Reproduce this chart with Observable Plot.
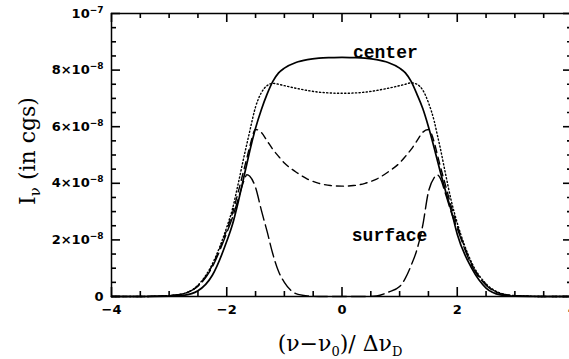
<!DOCTYPE html>
<html><head><meta charset="utf-8">
<script src="https://cdn.jsdelivr.net/npm/d3@7"></script>
<script src="https://cdn.jsdelivr.net/npm/@observablehq/plot@0.6"></script>
<style>body{margin:0;background:#fff} svg{display:block}</style>
</head><body><div id="chart"></div>
<script>
// frequency offset (in Doppler widths)
const xs = [-4, -3.5, -3, -2.75, -2.5, -2.25, -2, -1.9, -1.8, -1.7, -1.65, -1.6, -1.5, -1.4, -1.3, -1.2, -1.1, -1, -0.8, -0.6, -0.4, -0.2,
  0, 0.2, 0.4, 0.6, 0.8, 1, 1.1, 1.2, 1.3, 1.4, 1.5, 1.6, 1.65, 1.7, 1.8, 1.9, 2, 2.25, 2.5, 2.75, 3, 3.5, 4];
// intensities in units of 1e-8 cgs
const center = [0, 0, 0.01, 0.04, 0.2, 0.75, 1.95, 2.55, 3.35, 4.25, 4.7, 5.15, 5.95, 6.6, 7.15, 7.6, 7.9, 8.07, 8.27, 8.37, 8.42, 8.44,
  8.45, 8.44, 8.42, 8.37, 8.27, 8.07, 7.9, 7.6, 7.15, 6.65, 6.0, 5.25, 4.85, 4.45, 3.7, 3.0, 2.2, 1.0, 0.3, 0.06, 0.01, 0, 0];
const dotted = [0, 0, 0.03, 0.1, 0.4, 1.15, 2.45, 3.1, 4.0, 4.95, 5.4, 5.85, 6.7, 7.2, 7.45, 7.53, 7.5, 7.45, 7.36, 7.28, 7.22, 7.19,
  7.18, 7.19, 7.22, 7.28, 7.36, 7.45, 7.5, 7.55, 7.5, 7.3, 6.85, 6.2, 5.75, 5.3, 4.3, 3.35, 2.6, 1.2, 0.45, 0.12, 0.03, 0, 0];
const dashed = [0, 0, 0.03, 0.1, 0.38, 1.1, 2.35, 2.95, 3.7, 4.5, 4.9, 5.3, 5.9, 5.8, 5.5, 5.2, 4.95, 4.72, 4.4, 4.15, 4.0, 3.92,
  3.9, 3.92, 4.0, 4.15, 4.4, 4.72, 4.95, 5.2, 5.5, 5.8, 5.9, 5.45, 5.05, 4.65, 3.9, 3.15, 2.5, 1.15, 0.42, 0.11, 0.03, 0, 0];
const surface = [0, 0, 0.03, 0.1, 0.36, 1.05, 2.25, 2.8, 3.45, 4.1, 4.3, 4.25, 3.85, 3.05, 2.3, 1.5, 0.88, 0.5, 0.1, 0.02, 0, 0,
  0, 0, 0, 0.02, 0.15, 0.35, 0.65, 1.1, 1.65, 2.5, 3.7, 4.2, 4.3, 4.2, 3.6, 2.95, 2.4, 1.1, 0.4, 0.1, 0.03, 0, 0];

const xMajor = [-4, -2, 0, 2, 4];
const xMajorLabels = ["−4", "−2", "0", "2", "4"];
const xMinor = [-3.5, -3, -2.5, -1.5, -1, -0.5, 0.5, 1, 1.5, 2.5, 3, 3.5];
const yMajor = [0, 2, 4, 6, 8, 10];
const yMajorBase = ["0", "2×10", "4×10", "6×10", "8×10", "10"];
const yMajorExp = ["", "−8", "−8", "−8", "−8", "−7"];
const yMinor = [0.5, 1, 1.5, 2.5, 3, 3.5, 4.5, 5, 5.5, 6.5, 7, 7.5, 8.5, 9, 9.5];

const seriesNames = ["center", "dotted", "dashed", "surface"];
const seriesValues = [center, dotted, dashed, surface];
const seriesDash = [null, "1.2,2.4", "7,5", "14,5"];

const rows = seriesNames.map((n, k) => xs.map((x, i) => ({x, y: seriesValues[k][i]})));

const W = 569, H = 359, mL = 111, mT = 13, mB = 63, mR = -3;
const pw = W - mL - mR, ph = H - mT - mB;
const tick = {stroke: "black", strokeWidth: 1.6};
const tickFont = {fontSize: 13, fontWeight: "bold", fontFamily: "'DejaVu Sans', sans-serif"};

const chart = Plot.plot({
  width: W, height: H,
  marginLeft: mL, marginTop: mT, marginBottom: mB, marginRight: mR,
  x: {domain: [-4, 4]},
  y: {domain: [0, 10]},
  style: {background: "white", overflow: "hidden"},
  marks: [
    ...rows.map((r, k) => Plot.line(r, {x: "x", y: "y", stroke: "black",
      strokeWidth: k === 0 ? 1.7 : 1.4, strokeDasharray: seriesDash[k], curve: "monotone-x"})),
    Plot.frame({stroke: "black", strokeWidth: 1.5}),
    Plot.tickX(xMajor, {x: d => d, insetTop: ph - 9, ...tick}),
    Plot.tickX(xMinor, {x: d => d, insetTop: ph - 5, ...tick}),
    Plot.tickX(xMajor, {x: d => d, insetBottom: ph - 9, ...tick}),
    Plot.tickX(xMinor, {x: d => d, insetBottom: ph - 5, ...tick}),
    Plot.tickY(yMajor, {y: d => d, insetRight: pw - 9, ...tick}),
    Plot.tickY(yMinor, {y: d => d, insetRight: pw - 5, ...tick}),
    Plot.tickY(yMajor, {y: d => d, insetLeft: pw - 9, ...tick}),
    Plot.tickY(yMinor, {y: d => d, insetLeft: pw - 5, ...tick}),
    Plot.axisX({ticks: xMajor, tickSize: 0, tickPadding: 8, label: null,
      tickFormat: d => xMajorLabels[xMajor.indexOf(d)], ...tickFont}),
    Plot.axisY({ticks: yMajor, tickSize: 0, tickPadding: 8, label: null,
      tickFormat: d => yMajorBase[yMajor.indexOf(d)], ...tickFont}),
    Plot.text(["center"], {x: 0.19, y: 8.41, text: d => d, textAnchor: "start", lineAnchor: "bottom",
      fontSize: 18, fontWeight: "bold", fontFamily: "'Liberation Mono', monospace", fill: "black"}),
    Plot.text(["surface"], {x: 0.17, y: 1.96, text: d => d, textAnchor: "start", lineAnchor: "bottom",
      fontSize: 18, fontWeight: "bold", fontFamily: "'Liberation Mono', monospace", fill: "black"})
  ]
});
document.getElementById("chart").appendChild(chart);

const svg = d3.select(chart);
// superscript exponents on the y tick labels
svg.selectAll('g[aria-label="y-axis tick label"] text').each(function() {
  const t = d3.select(this);
  const i = yMajorBase.indexOf(t.text());
  if (i >= 0 && yMajorExp[i]) {
    t.append("tspan").attr("font-size", 9).attr("dy", -5).text(yMajorExp[i]);
  }
});
const serif = "'DejaVu Serif', 'Liberation Serif', serif";
// x-axis title
const xt = svg.append("text").attr("x", 340).attr("y", 351)
  .attr("text-anchor", "middle").attr("font-family", serif).attr("font-size", 22).attr("fill", "black");
xt.append("tspan").text("(ν−ν");
xt.append("tspan").attr("font-size", 13).attr("dy", 5).text("0");
xt.append("tspan").attr("dy", -5).text(")/ Δν");
xt.append("tspan").attr("font-size", 13).attr("dy", 5).text("D");
// y-axis title
const yt = svg.append("text").attr("transform", "translate(35,151) rotate(-90)")
  .attr("text-anchor", "middle").attr("font-family", serif).attr("font-size", 22).attr("fill", "black");
yt.append("tspan").text("I");
yt.append("tspan").attr("font-size", 15).attr("dy", 5).text("ν");
yt.append("tspan").attr("dy", -5).text(" (in cgs)");
</script></body></html>
